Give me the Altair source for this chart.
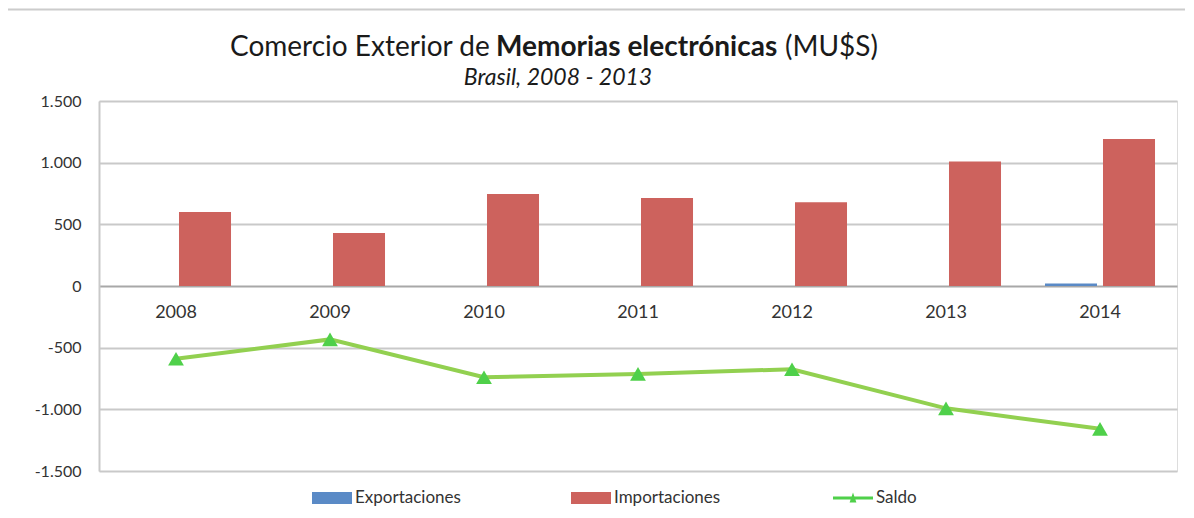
import altair as alt
import pandas as pd

years = ["2008", "2009", "2010", "2011", "2012", "2013", "2014"]
exportaciones = [0, 0, 0, 0, 0, 0, 20]
importaciones = [600, 430, 745, 713, 680, 1010, 1192]
saldo = [-590, -433, -740, -713, -675, -992, -1158]
y_ticks = [-1500, -1000, -500, 0, 500, 1000, 1500]

FONT = "Lato"
TXT = "#333333"
GRID = "#c9c9c9"

bars_df = pd.DataFrame(
    [{"anio": y, "serie": "Exportaciones", "valor": v} for y, v in zip(years, exportaciones)]
    + [{"anio": y, "serie": "Importaciones", "valor": v} for y, v in zip(years, importaciones)]
)
line_df = pd.DataFrame({"anio": years, "serie": ["Saldo"] * len(years), "valor": saldo})

W, H = 1078, 370

x_enc = alt.X(
    "anio:N",
    sort=years,
    scale=alt.Scale(paddingInner=0, paddingOuter=0),
    axis=alt.Axis(
        title=None, orient="bottom", offset=-H / 2, domain=False, ticks=False,
        labelAngle=0, labelPadding=17, labelFont=FONT, labelFontSize=18, labelColor=TXT,
    ),
)
y_enc = alt.Y(
    "valor:Q",
    scale=alt.Scale(domain=[-1500, 1500], nice=False, zero=False),
    axis=alt.Axis(
        title=None, values=y_ticks, ticks=False, domain=True, domainColor=GRID, domainWidth=2,
        grid=True, gridColor={"condition": {"test": "datum.value === 0", "value": "#a8a8a8"}, "value": GRID},
        gridWidth=2, labelPadding=18, labelFont=FONT, labelFontSize=16, labelColor=TXT,
        labelExpr="replace(replace(format(datum.value, ','), ',', '.'), '\u2212', '-')",
    ),
)

bars = alt.Chart(bars_df).mark_bar().encode(
    x=x_enc,
    xOffset=alt.XOffset("serie:N", sort=["Exportaciones", "Importaciones"],
                        scale=alt.Scale(paddingInner=0.1034, paddingOuter=0.379)),
    y=y_enc,
    color=alt.Color(
        "serie:N",
        scale=alt.Scale(domain=["Exportaciones", "Importaciones"], range=["#5a8ac6", "#cd625d"]),
        legend=alt.Legend(
            title=None, orient="none", direction="horizontal", legendX=213, legendY=377,
            symbolType="M-1,-0.3H1V0.3H-1Z", symbolSize=1600, symbolStrokeWidth=0,
            labelFont=FONT, labelFontSize=17, labelColor=TXT, labelOffset=3,
            columnPadding=109, gridAlign="all",
        ),
    ),
)

line = alt.Chart(line_df).mark_line(color="#92d050", strokeWidth=4).encode(
    x=alt.X("anio:N", sort=years),
    y=alt.Y("valor:Q"),
)

points = alt.Chart(line_df).mark_point(shape="triangle-up", filled=True, size=250, opacity=1).encode(
    x=alt.X("anio:N", sort=years),
    y=alt.Y("valor:Q"),
    color=alt.Color(
        "serie:N",
        scale=alt.Scale(domain=["Saldo"], range=["#4fd04a"]),
        legend=alt.Legend(
            title=None, orient="none", direction="horizontal", legendX=734, legendY=377,
            symbolType="M-1,-0.07H1V0.07H-1Z M-0.17,0.22L0,-0.28L0.17,0.22Z", symbolSize=1600,
            symbolStrokeWidth=0,
            labelFont=FONT, labelFontSize=17, labelColor=TXT, labelOffset=3,
        ),
    ),
)

title_df = pd.DataFrame({"t": [""]})
title_parts = [
    ("Comercio Exterior de", "normal", 131),
    ("Memorias electrónicas", "bold", 397),
    ("(MU$S)", "normal", 686),
]
title_layers = []
for txt, weight, px in title_parts:
    title_layers.append(
        alt.Chart(title_df).mark_text(
            text=txt, font=FONT, fontSize=28, fontWeight=weight, color="#1a1a1a",
            align="left", baseline="alphabetic",
        ).encode(x=alt.value(px), y=alt.value(-45))
    )
subtitle = alt.Chart(title_df).mark_text(
    text="Brasil, 2008 - 2013", font=FONT, fontSize=23, fontStyle="italic", color="#1a1a1a",
    align="center", baseline="alphabetic",
).encode(x=alt.value(459), y=alt.value(-16))

border = alt.Chart(title_df).mark_rule(color="#cccccc", strokeWidth=2).encode(
    x=alt.value(-91), x2=alt.value(W + 10), y=alt.value(-91.5)
)

chart = alt.layer(bars, line, points, border, *title_layers, subtitle).resolve_scale(
    color="independent"
).resolve_legend(color="independent").properties(
    width=W, height=H,
    padding={"left": 91, "top": 93, "right": 8, "bottom": 45},
    autosize=alt.AutoSizeParams(type="none"),
).configure_view(stroke=None).configure(background="white")

chart.save("out.html", embed_options={"renderer": "svg", "actions": False})
